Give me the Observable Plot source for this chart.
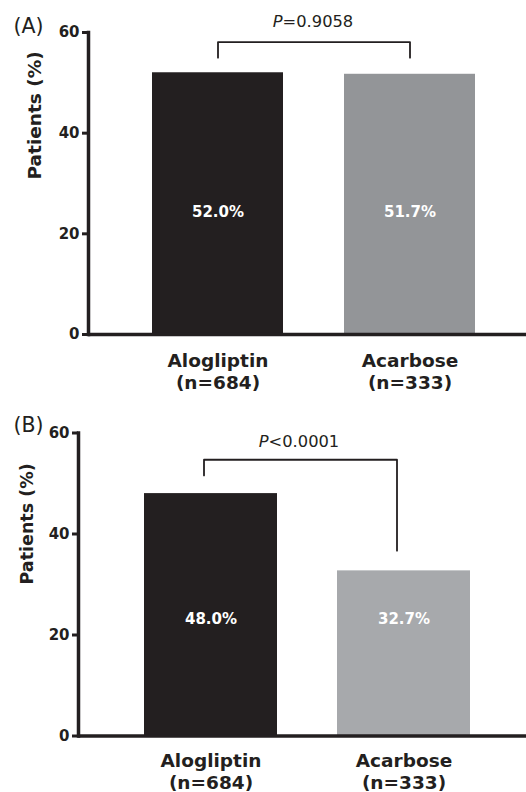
<!DOCTYPE html>
<html>
<head>
<meta charset="utf-8">
<script src="https://cdn.jsdelivr.net/npm/d3@7"></script>
<script src="https://cdn.jsdelivr.net/npm/@observablehq/plot@0.6"></script>
<style>
  body { margin: 0; background: #fff; }
  #chart { width: 526px; }
  #chart svg { display: block; overflow: visible; }
</style>
</head>
<body>
<div id="chart"></div>
<script>
// ---- data ----
const categories = ["Alogliptin", "Acarbose"];
const sampleSizes = ["(n=684)", "(n=333)"];
const panelLetters = ["(A)", "(B)"];
const valuesA = [52.0, 51.7];
const valuesB = [48.0, 32.7];
const valueLabelsA = ["52.0%", "51.7%"];
const valueLabelsB = ["48.0%", "32.7%"];
const pLabelA = "P=0.9058";
const pLabelB = "P<0.0001";
const yTicks = [0, 20, 40, 60];
const yLabel = "Patients (%)";
// bracket path heights (left leg end, top, top, right leg end)
const bracketA = [55.0, 58.1, 58.1, 55.0];
const bracketB = [51.6, 54.7, 54.7, 36.7];
const colorsA = ["#231f20", "#939598"];
const colorsB = ["#231f20", "#a7a9ac"];

const ink = "#231f20";

function panel(cfg) {
  const data = categories.map((c, i) => ({cat: c, value: cfg.values[i], label: cfg.valueLabels[i]}));
  const bracket = cfg.bracket.map((y, i) => ({cat: categories[i < 2 ? 0 : 1], y}));
  const svg = Plot.plot({
    width: 526,
    height: cfg.height,
    marginLeft: cfg.left,
    marginRight: 0,
    marginTop: cfg.top,
    marginBottom: cfg.bottom,
    style: {fontFamily: "DejaVu Sans", color: ink, background: "white", overflow: "visible"},
    x: {domain: categories, range: cfg.xRange, paddingInner: cfg.padIn, paddingOuter: 0, axis: null},
    y: {domain: [0, 60], axis: null},
    color: {domain: categories, range: cfg.colors},
    marks: [
      Plot.barY(data, {x: "cat", y: "value", fill: "cat"}),
      Plot.ruleY([0], {stroke: ink, strokeWidth: 3.5}),
      Plot.frame({anchor: "left", stroke: ink, strokeWidth: 3.5}),
      Plot.tickY(yTicks, {y: d => d, frameAnchor: "left", dx: -3, stroke: ink, strokeWidth: 3, insetLeft: 0,
        ariaDescription: "ticks"}),
      Plot.axisY({ticks: yTicks, tickSize: 6, tickPadding: 3, tickFormat: d => String(d),
        strokeWidth: 3, stroke: ink, fill: ink, fontSize: 15, fontWeight: "bold", label: null}),
      Plot.axisX({tickSize: 0, tickPadding: cfg.xPad, fontSize: 18.5, fontWeight: "bold",
        lineHeight: 1.22, fill: ink,
        tickFormat: d => d + "\n" + sampleSizes[categories.indexOf(d)], label: null}),
      Plot.text(data, {x: "cat", y: () => cfg.valueY, text: "label", fill: "white",
        fontSize: 15, fontWeight: "bold", lineAnchor: "bottom"}),
      Plot.line(bracket, {x: "cat", y: "y", stroke: ink, strokeWidth: 1.8, dx: cfg.bracketDx}),
      Plot.text([cfg.pLabel], {x: () => categories[0], y: () => cfg.pY, text: d => d, dx: cfg.pDx,
        fontSize: 16.3, fill: ink, lineAnchor: "bottom", ariaDescription: "pval"}),
      Plot.text([yLabel], {frameAnchor: "left", rotate: -90, dx: cfg.ylabDx, dy: cfg.ylabDy,
        fontSize: cfg.ylabSize, fontWeight: "bold", fill: ink, lineAnchor: "bottom", text: d => d}),
      Plot.text([cfg.letter], {frameAnchor: "top-left", dx: 13 - cfg.left, dy: cfg.letterBaseline - cfg.top,
        textAnchor: "start", lineAnchor: "bottom", fontSize: 20.5, fill: ink, text: d => d})
    ]
  });
  // remove helper tick mark (axisY draws the ticks)
  d3.select(svg).selectAll('g[aria-description="ticks"]').remove();
  d3.select(svg).selectAll('g[aria-description="pval"] text').each(function () {
    const t = this.textContent;
    const s = d3.select(this);
    s.text(null);
    s.append("tspan").attr("font-style", "italic").text(t[0]);
    s.append("tspan").text(t.slice(1));
  });
  return svg;
}

const chart = document.getElementById("chart");
chart.appendChild(panel({
  values: valuesA, valueLabels: valueLabelsA, colors: colorsA, bracket: bracketA,
  pLabel: pLabelA, letter: panelLetters[0],
  height: 390, left: 88, top: 32, bottom: 56,
  xRange: [151, 476], padIn: 0.316, xPad: 16,
  valueY: 23.4, pY: 61.06, pDx: 95, bracketDx: 0,
  ylabDx: -47.5, ylabDy: -4, ylabSize: 18.5, letterBaseline: 32.5
}));
chart.appendChild(panel({
  values: valuesB, valueLabels: valueLabelsB, colors: colorsB, bracket: bracketB,
  pLabel: pLabelB, letter: panelLetters[1],
  height: 402, left: 78, top: 42.5, bottom: 56.5,
  xRange: [143, 470], padIn: 0.313, xPad: 14.5,
  valueY: 22.1, pY: 57.2, pDx: 88, bracketDx: -7,
  ylabDx: -45.5, ylabDy: 0, ylabSize: 17.5, letterBaseline: 41
}));
</script>
</body>
</html>
